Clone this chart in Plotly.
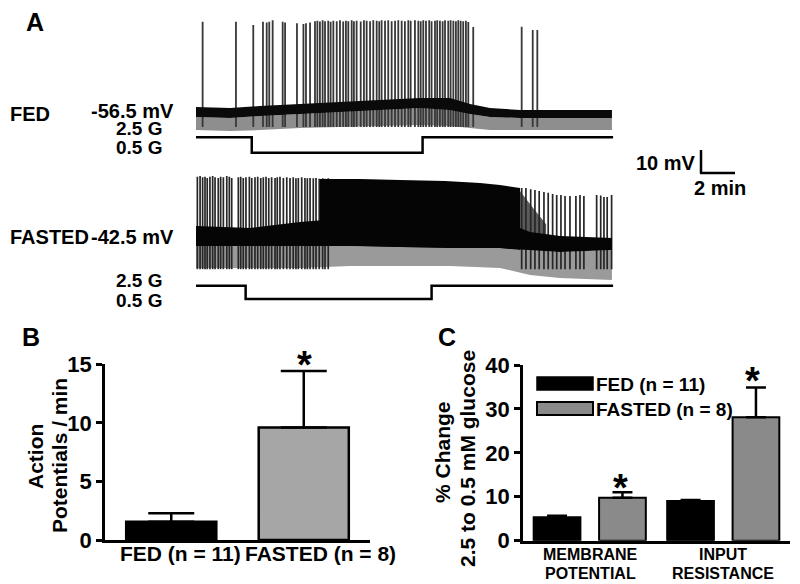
import plotly.graph_objects as go

# The page is shown with the browser's default 8 px body margin, so the figure is
# made 8 px smaller each way and all reference pixel positions are shifted by 8 px.
OFF = 8
W, H = 800 - OFF, 584 - OFF
FONT = "Liberation Sans, Arial, sans-serif"

# ---------------- Panel A data (time in min, membrane potential in mV, glucose in mM) -------------
# FED trace: noise band (dark upper band + grey lower band)
fed_band_t = [0, 2.0, 3.76, 6.12, 8.47, 10.82, 13.18, 14.94, 16.12, 17.29, 19.06, 21.41, 24.47]
fed_band_top = [-54.33, -54.76, -53.89, -53.02, -52.15, -51.28, -50.41, -50.41, -53.02, -54.76, -55.63, -55.63, -55.63]
fed_band_mid = [-58.67, -59.11, -58.24, -57.37, -56.5, -55.63, -54.76, -55.63, -57.37, -58.67, -59.11, -59.11, -59.11]
fed_band_low = [-64.33, -64.76, -64.33, -63.46, -63.02, -62.59, -62.15, -62.59, -63.46, -64.33, -64.33, -64.33, -64.33]

fed_spike_t = [0.39, 2.35, 3.37, 3.94, 4.16, 4.31, 4.51, 5.10, 5.24, 5.94,
               6.32, 6.47, 6.71, 7.00, 7.14, 7.29, 7.45, 7.59, 7.78, 7.92,
               8.08, 8.28, 8.47, 8.66, 8.82, 8.96, 9.16, 9.29, 9.45, 9.69,
               9.88, 10.04, 10.24, 10.43, 10.63, 10.78, 10.92, 11.12, 11.31, 11.51,
               11.71, 11.90, 12.10, 12.29, 12.49, 12.63, 12.88, 13.08, 13.22, 13.37,
               13.53, 13.72, 13.86, 14.06, 14.19, 14.35, 14.51, 14.65, 14.84, 14.98,
               15.14, 15.29, 15.43, 15.57, 15.72, 15.88, 16.02, 16.31, 19.16, 19.81,
               20.08]
fed_spike_peak = [-17.3, -17.3, -18.7, -17.3, -17.6, -17.3, -16.6, -17.3, -17.6, -17.9,
                  -18.2, -17.9, -17.6, -17.0, -16.8, -17.2, -16.6, -17.0, -16.8, -17.3,
                  -16.8, -17.0, -16.6, -17.2, -16.8, -17.0, -16.6, -17.0, -16.8, -17.2,
                  -16.6, -16.8, -17.0, -16.6, -16.8, -17.0, -16.6, -16.8, -16.6, -17.0,
                  -16.8, -16.6, -16.8, -17.0, -16.6, -16.8, -16.6, -16.8, -17.0, -16.6,
                  -16.8, -16.6, -17.0, -16.8, -16.6, -16.8, -17.0, -16.6, -16.8, -16.6,
                  -16.8, -17.0, -16.6, -16.8, -17.0, -16.8, -17.4, -19.5, -19.4, -20.8,
                  -20.8]
fed_spike_floor = -63.0

fed_glc_t = [0, 3.28, 3.28, 13.33, 13.33, 24.55]
fed_glc = [2.5, 2.5, 0.5, 0.5, 2.5, 2.5]

# FASTED trace
fasted_band_t = [0, 3.18, 6.12, 9.06, 12.0, 14.94, 17.88, 19.65, 21.41, 24.47]
fasted_band_top = [-37.72, -38.59, -35.98, -34.24, -32.93, -32.93, -35.11, -40.33, -42.07, -42.93]
fasted_band_mid = [-46.41, -46.41, -46.41, -46.41, -46.85, -47.28, -47.28, -48.15, -49.02, -48.15]
fasted_band_low = [-55.98, -55.98, -55.98, -55.11, -55.11, -55.11, -55.98, -59.02, -60.33, -61.2]

# continuous high-frequency firing: envelope of spike peaks
fasted_burst_t = [7.29, 9.65, 12.0, 14.65, 16.71, 17.88, 19.06]
fasted_burst_top = [-17.28, -17.28, -17.72, -18.15, -19.02, -19.89, -21.2]
fasted_burst_floor = [-46.4, -46.4, -46.8, -47.2, -47.3, -47.3, -48.1]
# firing slowing down after the return to 2.5 mM glucose (mixed grey region)
fasted_taper_t = [19.0, 19.9, 20.6]
fasted_taper_top = [-22.0, -30.5, -37.0]
fasted_taper_floor = [-48.1, -48.3, -48.5]

fasted_spike_t = [0.08, 0.24, 0.39, 0.53, 0.66, 0.82, 0.98, 1.12, 1.31, 1.45,
                  1.61, 1.81, 1.96, 2.10, 2.49, 2.63, 2.78, 2.94, 3.14, 3.28,
                  3.47, 3.63, 3.81, 3.96, 4.12, 4.28, 4.45, 4.65, 4.78, 4.94,
                  5.14, 5.34, 5.53, 5.72, 5.88, 6.02, 6.22, 6.41, 6.55, 6.71,
                  6.90, 7.06, 7.25, 7.45, 7.59, 7.78,
                  19.16, 19.41, 19.69, 19.94, 20.19, 20.47, 20.72, 20.98, 21.22, 21.47,
                  21.71, 22.00, 22.35, 22.59, 22.82, 23.57, 23.81, 24.00, 24.19, 24.45]
fasted_spike_peak = [-16.3, -16.0, -16.5, -16.3, -16.8, -16.3, -16.0, -16.5, -16.8, -16.3,
                     -16.5, -16.0, -16.3, -16.8, -16.5, -16.3, -16.8, -16.5, -16.3, -16.8,
                     -16.5, -16.3, -16.8, -16.5, -16.3, -16.8, -16.5, -16.8, -16.5, -16.3,
                     -16.8, -16.5, -16.8, -16.5, -17.0, -16.8, -16.5, -16.8, -17.0, -16.8,
                     -17.0, -16.8, -17.2, -17.0, -17.2, -17.0,
                     -21.2, -21.2, -21.7, -22.1, -22.5, -22.9, -23.3, -23.8, -24.2, -24.2,
                     -24.7, -24.7, -24.7, -24.2, -24.7, -24.2, -24.5, -25.1, -25.1, -24.2]
fasted_spike_floor = -56.5

fasted_glc_t = [0, 2.92, 2.92, 13.86, 13.86, 24.55]
fasted_glc = [2.5, 2.5, 0.5, 0.5, 2.5, 2.5]

# ---------------- Panel B data ----------------
b_categories = ["FED (n = 11)", "FASTED (n = 8)"]
b_values = [1.56, 9.61]
b_errors = [0.72, 4.82]

# ---------------- Panel C data ----------------
c_categories = ["MEMBRANE POTENTIAL", "INPUT RESISTANCE"]
c_label_lines = [["MEMBRANE", "POTENTIAL"], ["INPUT", "RESISTANCE"]]
c_fed = [5.33, 9.04]
c_fed_err = [0.36, 0.23]
c_fasted = [9.79, 28.1]
c_fasted_err = [1.23, 6.75]


def px_x(px):
    return (px - OFF) / W


def px_y(py):
    return 1 - (py - OFF) / H


def spikes(ts, peaks, floor):
    xs, ys = [], []
    for t, p in zip(ts, peaks):
        xs += [t, t, None]
        ys += [floor, p, None]
    return xs, ys


def band(t, top, low):
    return list(t) + list(t[::-1]), list(top) + list(low[::-1])


fig = go.Figure()

# ---- FED trace (x, y) ----
bx, by = band(fed_band_t, fed_band_mid, fed_band_low)
fig.add_trace(go.Scatter(x=bx, y=by, fill="toself", fillcolor="#8e8e8e", mode="none",
                         xaxis="x", yaxis="y", hoverinfo="skip"))
sx, sy = spikes(fed_spike_t, fed_spike_peak, fed_spike_floor)
fig.add_trace(go.Scatter(x=sx, y=sy, mode="lines", line=dict(color="#383838", width=1.8),
                         xaxis="x", yaxis="y", hoverinfo="skip"))
bx, by = band(fed_band_t, fed_band_top, fed_band_mid)
fig.add_trace(go.Scatter(x=bx, y=by, fill="toself", fillcolor="#0a0a0a", mode="none",
                         xaxis="x", yaxis="y", hoverinfo="skip"))
fig.add_trace(go.Scatter(x=fed_glc_t, y=fed_glc, mode="lines", line=dict(color="black", width=2.5),
                         xaxis="x2", yaxis="y2", hoverinfo="skip"))

# ---- FASTED trace (x3, y3) ----
bx, by = band(fasted_band_t, fasted_band_mid, fasted_band_low)
fig.add_trace(go.Scatter(x=bx, y=by, fill="toself", fillcolor="#9a9a9a", mode="none",
                         xaxis="x3", yaxis="y3", hoverinfo="skip"))
bx, by = band(fasted_taper_t, fasted_taper_top, fasted_taper_floor)
fig.add_trace(go.Scatter(x=bx, y=by, fill="toself", fillcolor="#5a5a5a", mode="none",
                         xaxis="x3", yaxis="y3", hoverinfo="skip"))
sx, sy = spikes(fasted_spike_t, fasted_spike_peak, fasted_spike_floor)
fig.add_trace(go.Scatter(x=sx, y=sy, mode="lines", line=dict(color="#262626", width=1.7),
                         xaxis="x3", yaxis="y3", hoverinfo="skip"))
bx, by = band(fasted_burst_t, fasted_burst_top, fasted_burst_floor)
fig.add_trace(go.Scatter(x=bx, y=by, fill="toself", fillcolor="#050505", mode="none",
                         xaxis="x3", yaxis="y3", hoverinfo="skip"))
bx, by = band(fasted_band_t, fasted_band_top, fasted_band_mid)
fig.add_trace(go.Scatter(x=bx, y=by, fill="toself", fillcolor="#050505", mode="none",
                         xaxis="x3", yaxis="y3", hoverinfo="skip"))
fig.add_trace(go.Scatter(x=fasted_glc_t, y=fasted_glc, mode="lines", line=dict(color="black", width=2.5),
                         xaxis="x4", yaxis="y4", hoverinfo="skip"))

# ---- Panel B ----
fig.add_trace(go.Bar(x=b_categories, y=b_values, width=0.68,
                     marker=dict(color=["#000000", "#a6a6a6"], line=dict(color="black", width=2.5)),
                     error_y=dict(type="data", symmetric=False, array=b_errors, arrayminus=[0, 0],
                                  color="black", thickness=2.5, width=23),
                     xaxis="x5", yaxis="y5"))

# ---- Panel C ----
fig.add_trace(go.Bar(x=c_categories, y=c_fed, width=0.35, offset=-0.42,
                     marker=dict(color="#000000", line=dict(color="black", width=2)),
                     error_y=dict(type="data", symmetric=False, array=c_fed_err, arrayminus=[0, 0],
                                  color="black", thickness=2.5, width=10),
                     xaxis="x6", yaxis="y6"))
fig.add_trace(go.Bar(x=c_categories, y=c_fasted, width=0.35, offset=0.07,
                     marker=dict(color="#8a8a8a", line=dict(color="black", width=2)),
                     error_y=dict(type="data", symmetric=False, array=c_fasted_err, arrayminus=[0, 0],
                                  color="black", thickness=2.5, width=10),
                     xaxis="x6", yaxis="y6"))

hidden = dict(visible=False, showgrid=False, zeroline=False, fixedrange=True)
xdomA = [px_x(196), px_x(613.3)]

tickfont = dict(family=FONT, size=22, color="black", weight="bold")

fig.update_layout(
    width=W, height=H, margin=dict(l=0, r=0, t=0, b=0, pad=0, autoexpand=False),
    paper_bgcolor="white", plot_bgcolor="rgba(0,0,0,0)", showlegend=False,
    font=dict(family=FONT, color="black"),
    barmode="overlay",
    xaxis=dict(domain=xdomA, range=[0, 24.55], anchor="y", **hidden),
    yaxis=dict(domain=[px_y(135), px_y(10)], range=[-66.5, -12.15], anchor="x", **hidden),
    xaxis2=dict(domain=xdomA, range=[0, 24.55], anchor="y2", **hidden),
    yaxis2=dict(domain=[px_y(160), px_y(130)], range=[-0.448, 3.448], anchor="x2", **hidden),
    xaxis3=dict(domain=xdomA, range=[0, 24.55], anchor="y3", **hidden),
    yaxis3=dict(domain=[px_y(282), px_y(168)], range=[-62.07, -12.5], anchor="x3", **hidden),
    xaxis4=dict(domain=xdomA, range=[0, 24.55], anchor="y4", **hidden),
    yaxis4=dict(domain=[px_y(305), px_y(280)], range=[-0.402, 3.357], anchor="x4", **hidden),
    xaxis5=dict(domain=[px_x(105), px_x(370)], type="category", range=[-0.5, 1.5], anchor="y5",
                showline=True, linecolor="black", linewidth=2.5, showticklabels=False, ticks="",
                showgrid=False, zeroline=False, fixedrange=True, automargin=False),
    yaxis5=dict(domain=[px_y(540), px_y(364.3)], range=[0, 15], anchor="x5",
                tickvals=[0, 5, 10, 15], ticks="outside", ticklen=6, tickwidth=2.5, tickcolor="black",
                showline=True, linecolor="black", linewidth=2.5, showgrid=False, zeroline=False,
                tickfont=tickfont, fixedrange=True, automargin=False),
    xaxis6=dict(domain=[px_x(523), px_x(790)], type="category", range=[-0.5, 1.5], anchor="y6",
                showline=True, linecolor="black", linewidth=2.5, ticks="", showgrid=False, zeroline=False,
                showticklabels=False, fixedrange=True, automargin=False),
    yaxis6=dict(domain=[px_y(540.7), px_y(365)], range=[0, 40], anchor="x6",
                tickvals=[0, 10, 20, 30, 40], ticks="outside", ticklen=6, tickwidth=2.5, tickcolor="black",
                showline=True, linecolor="black", linewidth=2.5, showgrid=False, zeroline=False,
                tickfont=tickfont, fixedrange=True, automargin=False),
)


def ann(text, x, y, size=20, xanchor="center", yanchor="middle", angle=0):
    fig.add_annotation(text=text, x=px_x(x), y=px_y(y), xref="paper", yref="paper",
                       showarrow=False, xanchor=xanchor, yanchor=yanchor, textangle=angle,
                       font=dict(family=FONT, size=size, color="black", weight="bold"))


# Panel letters
ann("A", 35, 22, size=25)
ann("B", 31, 337, size=25)
ann("C", 447, 337, size=25)

# Panel A labels
ann("FED", 8, 114, xanchor="left")
ann("-56.5 mV", 176, 111, xanchor="right")
ann("2.5 G", 164, 129, size=19, xanchor="right")
ann("0.5 G", 164, 147, size=19, xanchor="right")
ann("FASTED", 8, 237, xanchor="left")
ann("-42.5 mV", 176, 237, xanchor="right")
ann("2.5 G", 164, 281, size=19, xanchor="right")
ann("0.5 G", 164, 300, size=19, xanchor="right")

# scale bar
ann("10 mV", 698, 163, xanchor="right")
ann("2 min", 720, 188)
fig.add_shape(type="line", xref="paper", yref="paper", x0=px_x(701), x1=px_x(701),
              y0=px_y(150), y1=px_y(173.5), line=dict(color="black", width=2.5))
fig.add_shape(type="line", xref="paper", yref="paper", x0=px_x(700), x1=px_x(735),
              y0=px_y(173), y1=px_y(173), line=dict(color="black", width=2.5))

# Panel B labels
ann("Action", 35, 456, size=21, angle=-90)
ann("Potentials / min", 59, 456, size=21, angle=-90)
ann("FED (n = 11)", 180, 553, size=21)
ann("FASTED (n = 8)", 320, 553, size=21)
ann("*", 304, 365, size=38)

# Panel C labels
ann("% Change", 442, 452, size=21, angle=-90)
ann("2.5 to 0.5 mM glucose", 467, 459, size=21, angle=-90)
ann("*", 620, 488, size=38)
ann("*", 752, 381, size=38)
for cx, lines in zip([590, 723], c_label_lines):
    ann(lines[0], cx, 554, size=16)
    ann(lines[1], cx, 573, size=16)

# Panel C legend
fig.add_shape(type="rect", xref="paper", yref="paper", x0=px_x(537), x1=px_x(593),
              y0=px_y(390), y1=px_y(377), fillcolor="black", line=dict(color="black", width=1.5))
fig.add_shape(type="rect", xref="paper", yref="paper", x0=px_x(537), x1=px_x(593),
              y0=px_y(415), y1=px_y(402), fillcolor="#8a8a8a", line=dict(color="black", width=2))
ann("FED (n = 11)", 594, 384, size=19, xanchor="left")
ann("FASTED (n = 8)", 594, 409, size=19, xanchor="left")

fig.write_html("out.html")
